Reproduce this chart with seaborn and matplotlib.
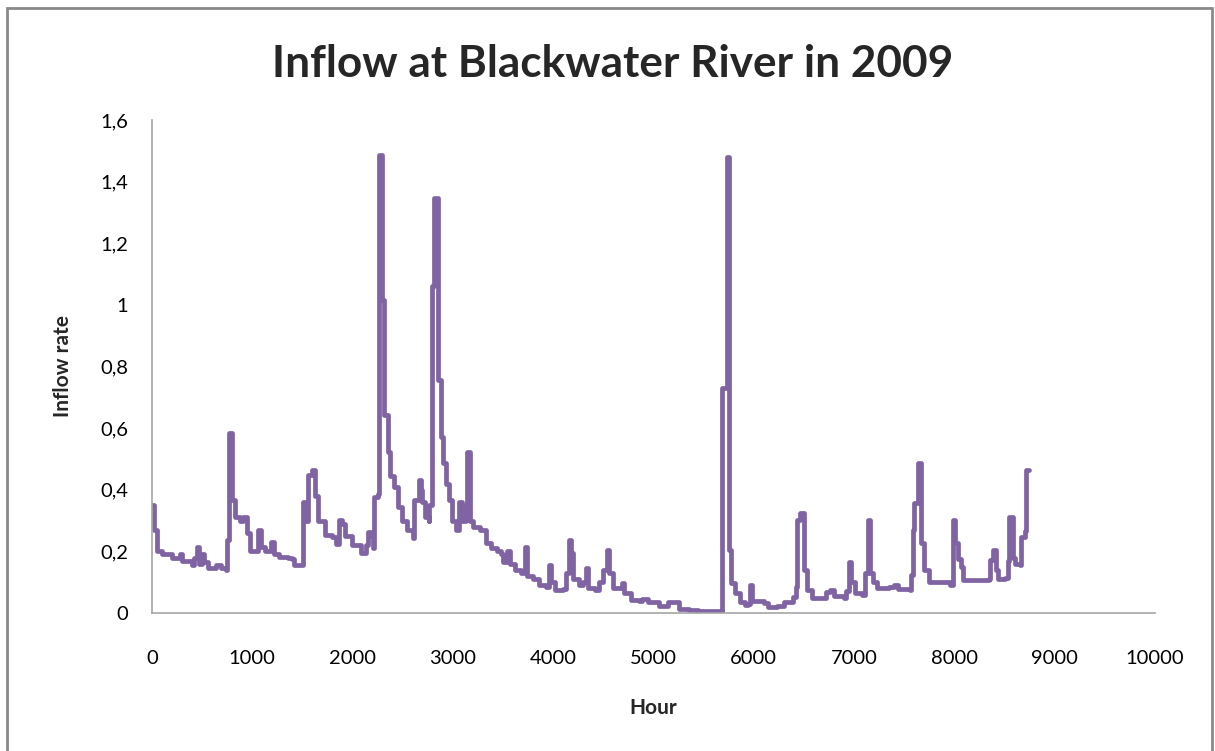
import matplotlib
matplotlib.use("Agg")
import matplotlib.pyplot as plt
from matplotlib.patches import Rectangle
from matplotlib.ticker import FuncFormatter
import seaborn as sns
import pandas as pd

# Hourly inflow breakpoints for 2009 (hour of year, inflow rate)
hours = [
    0, 20, 24, 40, 48, 100, 200, 280, 300, 400, 420, 444, 470, 500, 520, 560,
    640, 690, 740, 745, 765, 770, 790, 795, 830, 880, 910, 945, 980, 1030,
    1055, 1085, 1130, 1190, 1220, 1270, 1360, 1400, 1420, 1500, 1505, 1530,
    1560, 1600, 1625, 1660, 1720, 1790, 1830, 1862, 1890, 1920, 1990, 2084,
    2130, 2150, 2180, 2200, 2210, 2250, 2260, 2290, 2295, 2310, 2315, 2350,
    2375, 2410, 2450, 2490, 2540, 2600, 2615, 2658, 2680, 2695, 2720, 2760,
    2765, 2790, 2815, 2840, 2850, 2880, 2905, 2930, 2960, 2990, 3030, 3062,
    3090, 3135, 3145, 3170, 3175, 3200, 3270, 3330, 3380, 3440, 3480, 3500,
    3543, 3570, 3620, 3680, 3718, 3740, 3800, 3857, 3930, 3956, 3980, 4020,
    4100, 4130, 4155, 4175, 4200, 4260, 4300, 4327, 4345, 4420, 4460, 4500,
    4536, 4560, 4600, 4660, 4684, 4710, 4780, 4860, 4883, 4950, 5050, 5140,
    5250, 5350, 5447, 5600, 5680, 5686, 5715, 5730, 5746, 5750, 5760, 5770,
    5810, 5860, 5911, 5945, 5962, 5985, 6100, 6140, 6230, 6300, 6390, 6418,
    6430, 6458, 6480, 6500, 6530, 6580, 6700, 6723, 6760, 6800, 6900, 6920,
    6945, 6970, 7010, 7080, 7110, 7137, 7155, 7190, 7230, 7350, 7402, 7440,
    7560, 7568, 7590, 7601, 7641, 7660, 7665, 7700, 7750, 7800, 7900, 7960,
    7982, 8010, 8040, 8070, 8082, 8345, 8360, 8387, 8410, 8430, 8500, 8530,
    8545, 8575, 8585, 8600, 8650, 8661, 8700, 8718, 8740,
]
inflow = [
    0.35, 0.35, 0.27, 0.27, 0.20, 0.19, 0.178, 0.19, 0.168, 0.157, 0.18, 0.215,
    0.16, 0.19, 0.165, 0.147, 0.155, 0.145, 0.14, 0.237, 0.237, 0.585, 0.585,
    0.367, 0.31, 0.30, 0.31, 0.26, 0.20, 0.20, 0.27, 0.215, 0.20, 0.23, 0.19,
    0.183, 0.178, 0.176, 0.156, 0.156, 0.36, 0.30, 0.448, 0.464, 0.38, 0.30,
    0.253, 0.245, 0.225, 0.302, 0.29, 0.25, 0.22, 0.194, 0.22, 0.264, 0.25,
    0.21, 0.378, 0.385, 1.487, 1.487, 1.016, 1.016, 0.643, 0.524, 0.443, 0.41,
    0.345, 0.30, 0.27, 0.243, 0.367, 0.432, 0.40, 0.36, 0.313, 0.30, 0.35,
    1.06, 1.346, 1.346, 0.756, 0.572, 0.486, 0.42, 0.367, 0.30, 0.27, 0.361,
    0.30, 0.35, 0.524, 0.524, 0.30, 0.28, 0.27, 0.226, 0.21, 0.20, 0.19,
    0.165, 0.20, 0.16, 0.14, 0.13, 0.215, 0.12, 0.11, 0.09, 0.085, 0.156,
    0.10, 0.075, 0.078, 0.13, 0.237, 0.195, 0.11, 0.09, 0.10, 0.145, 0.08,
    0.075, 0.10, 0.14, 0.204, 0.13, 0.081, 0.08, 0.096, 0.065, 0.042, 0.040,
    0.045, 0.035, 0.023, 0.035, 0.013, 0.010, 0.008, 0.006, 0.004, 0.729,
    0.729, 1.48, 1.48, 0.204, 0.204, 0.097, 0.065, 0.037, 0.026, 0.03, 0.091,
    0.038, 0.033, 0.02, 0.022, 0.037, 0.053, 0.085, 0.302, 0.324, 0.324, 0.14,
    0.075, 0.048, 0.048, 0.069, 0.075, 0.055, 0.048, 0.07, 0.167, 0.10, 0.065,
    0.059, 0.129, 0.302, 0.129, 0.10, 0.08, 0.085, 0.09, 0.078, 0.075, 0.123,
    0.269, 0.356, 0.486, 0.486, 0.226, 0.14, 0.10, 0.102, 0.102, 0.09, 0.302,
    0.226, 0.175, 0.15, 0.107, 0.11, 0.172, 0.204, 0.14, 0.11, 0.115, 0.17,
    0.313, 0.313, 0.18, 0.16, 0.156, 0.248, 0.265, 0.464, 0.464,
]

x_ticks = [0, 1000, 2000, 3000, 4000, 5000, 6000, 7000, 8000, 9000, 10000]
y_ticks = [0, 0.2, 0.4, 0.6, 0.8, 1.0, 1.2, 1.4, 1.6]

df = pd.DataFrame({"Hour": hours, "Inflow rate": inflow})

sns.set_theme(style="white")
plt.rcParams["font.family"] = ["Lato", "DejaVu Sans"]

fig = plt.figure(figsize=(12.15, 7.51), dpi=100)
ax = fig.add_axes([0.1251, 0.1838, 0.8255, 0.6564])

# Daily-held flows: draw as a staircase
sns.lineplot(data=df, x="Hour", y="Inflow rate", ax=ax, color="#7f63a2",
             linewidth=3.4, drawstyle="steps-post",
             solid_capstyle="round", solid_joinstyle="round")

ax.set_xlim(x_ticks[0], x_ticks[-1])
ax.set_ylim(y_ticks[0], y_ticks[-1])
ax.set_xticks(x_ticks)
ax.set_yticks(y_ticks)


def comma_fmt(v, _pos):
    return f"{v:g}".replace(".", ",")


ax.yaxis.set_major_formatter(FuncFormatter(comma_fmt))
ax.xaxis.set_major_formatter(FuncFormatter(lambda v, _p: f"{int(v)}"))
ax.tick_params(axis="both", length=0, labelsize=14.5, colors="#000000")
ax.tick_params(axis="y", pad=17)
ax.tick_params(axis="x", pad=27)

for side in ("top", "right"):
    ax.spines[side].set_visible(False)
for side in ("left", "bottom"):
    ax.spines[side].set_color("#a6a6a6")
    ax.spines[side].set_linewidth(1.2)

ax.set_xlabel("Hour", fontsize=15, fontweight="bold", labelpad=22)
ax.set_ylabel("Inflow rate", fontsize=15, fontweight="bold", labelpad=20)

fig.text(0.504, 0.915, "Inflow at Blackwater River in 2009", ha="center",
         va="center", fontsize=31.8, fontweight="bold")

# Outer chart-area frame
fig.add_artist(Rectangle((7 / 1215, -0.02), 1205 / 1215, 1.02 - 8 / 751,
                         transform=fig.transFigure, fill=False,
                         edgecolor="#8a8a8a", linewidth=2.0, clip_on=False))

fig.savefig("out.png", dpi=100)
